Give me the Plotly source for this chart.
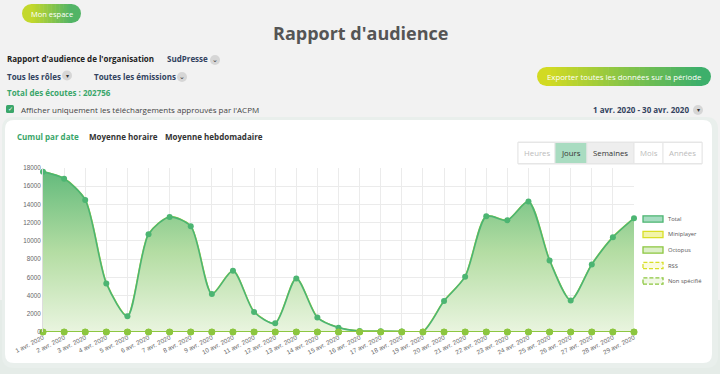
import plotly.graph_objects as go

W, H = 720, 374

days = [f"{d} avr. 2020" for d in range(1, 30)]
total = [17600, 16830, 14500, 5330, 1720, 10730, 12630, 11600, 4160, 6720,
         2190, 950, 5880, 1580, 480, 110, 80, 50, 40, 3390,
         6070, 12700, 12260, 14310, 7850, 3470, 7410, 10400, 12480]
octopus = list(total)
miniplayer = [0] * 29
rss = [0] * 29
non_specifie = [0] * 29
y_ticks = [0, 2000, 4000, 6000, 8000, 10000, 12000, 14000, 16000, 18000]

legend_items = ["Total", "Miniplayer", "Octopus", "RSS", "Non spécifié"]

FONT = "Open Sans"


def px(x):
    return x / W


def py(y):
    return 1 - y / H


xs = list(range(len(days)))

fig = go.Figure()

fig.add_trace(go.Scatter(
    x=xs, y=octopus, mode="lines", line=dict(color="#b4d33a", width=2, shape="spline", smoothing=0.75),
    hoverinfo="skip"))
fig.add_trace(go.Scatter(
    x=xs, y=total, mode="lines+markers", fill="tozeroy", cliponaxis=False,
    fillgradient=dict(type="vertical",
                      colorscale=[[0, "rgba(234,245,224,1)"], [0.5, "rgba(180,221,163,1)"],
                                  [1, "rgba(100,187,124,1)"]]),
    line=dict(color="#4cb572", width=1.6, shape="spline", smoothing=0.75),
    marker=dict(color="#4cb572", size=6)))
for vals in (miniplayer, rss, non_specifie):
    fig.add_trace(go.Scatter(
        x=xs, y=vals, mode="lines+markers", cliponaxis=False,
        line=dict(color="#8cc63f", width=1.6),
        marker=dict(color="#8cc63f", size=6.5)))

shapes = []
annotations = []


def text(x, y, s, size=8, color="#333", bold=False, anchor="left", family=FONT):
    if bold:
        s = f"<b>{s}</b>"
    annotations.append(dict(x=px(x), y=py(y), xref="paper", yref="paper", text=s, showarrow=False,
                            xanchor=anchor, yanchor="middle",
                            font=dict(size=size, color=color, family=family)))


def rrect(x0, y0, x1, y1, r, fill, line="rgba(0,0,0,0)", width=0, dash="solid"):
    X0, X1 = px(x0), px(x1)
    Y0, Y1 = py(y0), py(y1)
    rx, ry = r / W, r / H
    path = (f"M {X0+rx},{Y0} L {X1-rx},{Y0} Q {X1},{Y0} {X1},{Y0-ry} L {X1},{Y1+ry} "
            f"Q {X1},{Y1} {X1-rx},{Y1} L {X0+rx},{Y1} Q {X0},{Y1} {X0},{Y1+ry} "
            f"L {X0},{Y0-ry} Q {X0},{Y0} {X0+rx},{Y0} Z")
    shapes.append(dict(type="path", path=path, xref="paper", yref="paper", fillcolor=fill,
                       line=dict(color=line, width=width, dash=dash), layer="below"))


def rect(x0, y0, x1, y1, fill, line="rgba(0,0,0,0)", width=0, dash="solid", layer="above"):
    shapes.append(dict(type="rect", x0=px(x0), x1=px(x1), y0=py(y1), y1=py(y0), xref="paper",
                       yref="paper", fillcolor=fill, line=dict(color=line, width=width, dash=dash),
                       layer=layer))


def circle(cx, cy, r, fill, layer="above"):
    shapes.append(dict(type="circle", x0=px(cx - r), x1=px(cx + r), y0=py(cy + r), y1=py(cy - r),
                       xref="paper", yref="paper", fillcolor=fill, line=dict(width=0), layer=layer))


def hexc(h):
    return tuple(int(h[i:i + 2], 16) for i in (1, 3, 5))


def pill(x0, y0, x1, y1, c0, c1, n=30):
    r = (y1 - y0) / 2
    a, b = hexc(c0), hexc(c1)
    circle(x0 + r, y0 + r, r, c0, layer="below")
    circle(x1 - r, y0 + r, r, c1, layer="below")
    xa, xb = x0 + r, x1 - r
    step = (xb - xa) / n
    for i in range(n):
        t = i / (n - 1)
        col = "rgb(%d,%d,%d)" % tuple(round(a[k] + (b[k] - a[k]) * t) for k in range(3))
        rect(xa + i * step - 0.3, y0, xa + (i + 1) * step + 0.3, y1, col, layer="below")


# background tint below card
rect(0, 300, 720, 374, "#e5ece8", layer="below")
rrect(2, 117, 718, 368, 12, "#e9efec")
rrect(5, 120, 712, 363, 9, "#ffffff")

# top buttons
pill(22, 4, 81, 23, "#c3d82c", "#52b466")
text(51.5, 13.5, "Mon espace", size=7.5, color="#ffffff", anchor="center")
pill(537, 67, 711, 86, "#d2da22", "#3daf6b")
text(624, 76.5, "Exporter toutes les données sur la période", size=7.8, color="#ffffff", anchor="center")

text(360, 33, "Rapport d'audience", size=18, color="#555555", bold=True, anchor="center")

text(5, 59, "Rapport d'audience de l'organisation", size=8, color="#222", bold=True)
text(165, 59, "SudPresse", size=8, color="#33435f", bold=True)
circle(215, 60, 5, "#d6d6d6")
text(215, 59.5, "⌄", size=7, color="#333", anchor="center")
text(5, 76, "Tous les rôles", size=8, color="#33435f", bold=True)
circle(67, 75.5, 5, "#d6d6d6")
text(67, 75.5, "▾", size=6, color="#333", anchor="center")
text(92, 76, "Toutes les émissions", size=8, color="#33435f", bold=True)
circle(182, 77, 5, "#d6d6d6")
text(182, 76.5, "⌄", size=7, color="#333", anchor="center")
text(5, 92, "Total des écoutes : 202756", size=8, color="#3aa66a", bold=True)

rrect(6, 105, 14, 113, 1.5, "#3aa66a")
text(10, 109, "✓", size=6, color="#ffffff", anchor="center")
text(19, 109, "Afficher uniquement les téléchargements approuvés par l'ACPM", size=8, color="#444")
text(691, 109.5, "1 avr. 2020 - 30 avr. 2020", size=8, color="#33435f", bold=True, anchor="right")
circle(698, 110, 5, "#d6d6d6")
text(698, 110, "▾", size=6, color="#333", anchor="center")

text(15, 136, "Cumul par date", size=8, color="#3aa66a", bold=True)
text(87, 136, "Moyenne horaire", size=8, color="#333", bold=True)
text(163, 136, "Moyenne hebdomadaire", size=8, color="#333", bold=True)

# period buttons
cells = [("Heures", 518, 555, "#ffffff", "#bbbbbb"),
         ("Jours", 555, 587, "#a9dcc1", "#333333"),
         ("Semaines", 587, 634, "#eeeeee", "#333333"),
         ("Mois", 634, 663, "#ffffff", "#bbbbbb"),
         ("Années", 663, 702, "#ffffff", "#bbbbbb")]
rect(518, 142, 702, 164, "#ffffff", line="#e6e6e6", width=1)
for lab, a, b, bg, fg in cells:
    rect(a, 142.5, b, 163.5, bg, line="#e6e6e6", width=1)
    text((a + b) / 2, 153, lab, size=7.8, color=fg, anchor="center")

# custom legend
leg = [("#a6dcc1", "#4cb572", "solid"),
       ("#f2f4a8", "#d8df27", "solid"),
       ("#dcefc8", "#8cc63f", "solid"),
       ("#fbfbe0", "#d8df27", "4px,2px"),
       ("#f1f8e6", "#8cc63f", "4px,2px")]
for i, (fill, ln, dash) in enumerate(leg):
    yy = 219 + i * 15.5
    rect(643, yy - 3.2, 663, yy + 3.2, fill, line=ln, width=1.3, dash=dash)
    text(666, yy, legend_items[i], size=5.8, color="#555")

fig.update_layout(
    width=W, height=H, margin=dict(l=0, r=0, t=0, b=0),
    paper_bgcolor="#f2f2f2", plot_bgcolor="rgba(0,0,0,0)",
    showlegend=False, shapes=shapes, annotations=annotations,
    xaxis=dict(domain=[px(43), px(634)], range=[0, 28], tickvals=xs, ticktext=days,
               tickangle=-27, tickfont=dict(size=6.3, color="#666", family="Liberation Sans"),
               showgrid=True, gridcolor="#ebebeb", gridwidth=1, zeroline=False,
               showline=False, ticks="", automargin=False, fixedrange=True),
    yaxis=dict(domain=[py(332), py(168)], range=[0, 18000], tickvals=y_ticks,
               ticktext=[str(v) for v in y_ticks],
               tickfont=dict(size=6.3, color="#666", family="Liberation Sans"),
               showgrid=True, gridcolor="#ebebeb", zeroline=False, showline=True,
               linecolor="#dddddd", ticks="", automargin=False, fixedrange=True),
)

fig.write_html("out.html", config={"displayModeBar": False},
               post_script="document.body.style.margin='0';document.body.style.background='#f2f2f2';")
